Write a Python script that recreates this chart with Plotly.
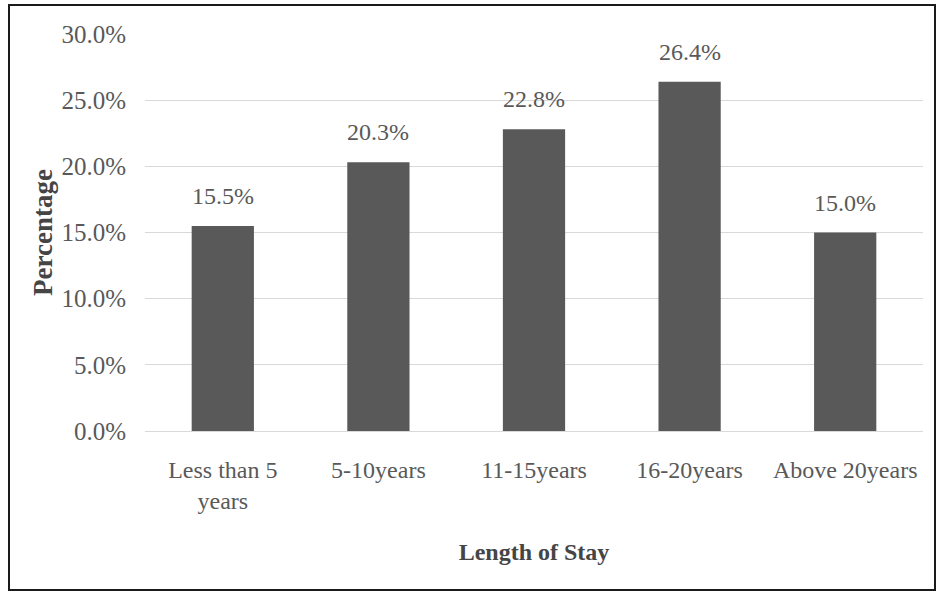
import plotly.graph_objects as go

categories = ["Less than 5<br>years", "5-10years", "11-15years", "16-20years", "Above 20years"]
percentages = [15.5, 20.3, 22.8, 26.4, 15.0]
y_ticks = [0, 5, 10, 15, 20, 25, 30]

TEXT_GRAY = "#595959"
TITLE_GRAY = "#454545"
BAR_GRAY = "#595959"
FONT = "Liberation Serif, Times New Roman, serif"

fig = go.Figure(
    go.Bar(
        x=categories,
        y=percentages,
        marker=dict(color=BAR_GRAY, line=dict(width=0)),
        hoverinfo="skip",
    )
)

# value labels floating above each bar
for cat, val in zip(categories, percentages):
    fig.add_annotation(
        x=cat, y=val, xref="x", yref="y",
        text=f"{val:.1f}%",
        showarrow=False,
        yanchor="middle",
        yshift=30,
        font=dict(family=FONT, size=24, color=TEXT_GRAY),
    )

# plot area spans x 145..923, y 34..431 in page pixels
L, R, T, B = 145, 923, 34, 431
W, H = R - L, B - T

def px_x(v):
    return (v - L) / W

def px_y(v):
    return (B - v) / H

fig.add_shape(
    type="rect", xref="paper", yref="paper",
    x0=px_x(9), x1=px_x(935), y0=px_y(590), y1=px_y(5),
    line=dict(color="#1a1a1a", width=2), fillcolor="rgba(0,0,0,0)",
    layer="above",
)

fig.update_layout(
    width=940,
    height=592,
    margin=dict(l=L, r=940 - R, t=T, b=592 - B),
    paper_bgcolor="white",
    plot_bgcolor="white",
    bargap=0.6,
    showlegend=False,
    font=dict(family=FONT, color=TEXT_GRAY),
    xaxis=dict(
        title=dict(text="<b>Length of Stay</b>", font=dict(family=FONT, size=24, color=TITLE_GRAY), standoff=30),
        tickfont=dict(family=FONT, size=24, color=TEXT_GRAY),
        showgrid=False,
        showline=True,
        linecolor="#d9d9d9",
        linewidth=1,
        ticks="",
        ticklabelstandoff=17,
    ),
    yaxis=dict(
        title=dict(text="<b>Percentage</b>", font=dict(family=FONT, size=27, color=TITLE_GRAY), standoff=0),
        range=[0, 30],
        tickvals=y_ticks,
        ticktext=[f"{v:.1f}%" for v in y_ticks],
        tickfont=dict(family=FONT, size=25, color=TEXT_GRAY),
        showgrid=True,
        gridcolor="#d9d9d9",
        gridwidth=1,
        zeroline=False,
        ticks="",
        ticklabelstandoff=18,
    ),
)

fig.write_html("out.html")
